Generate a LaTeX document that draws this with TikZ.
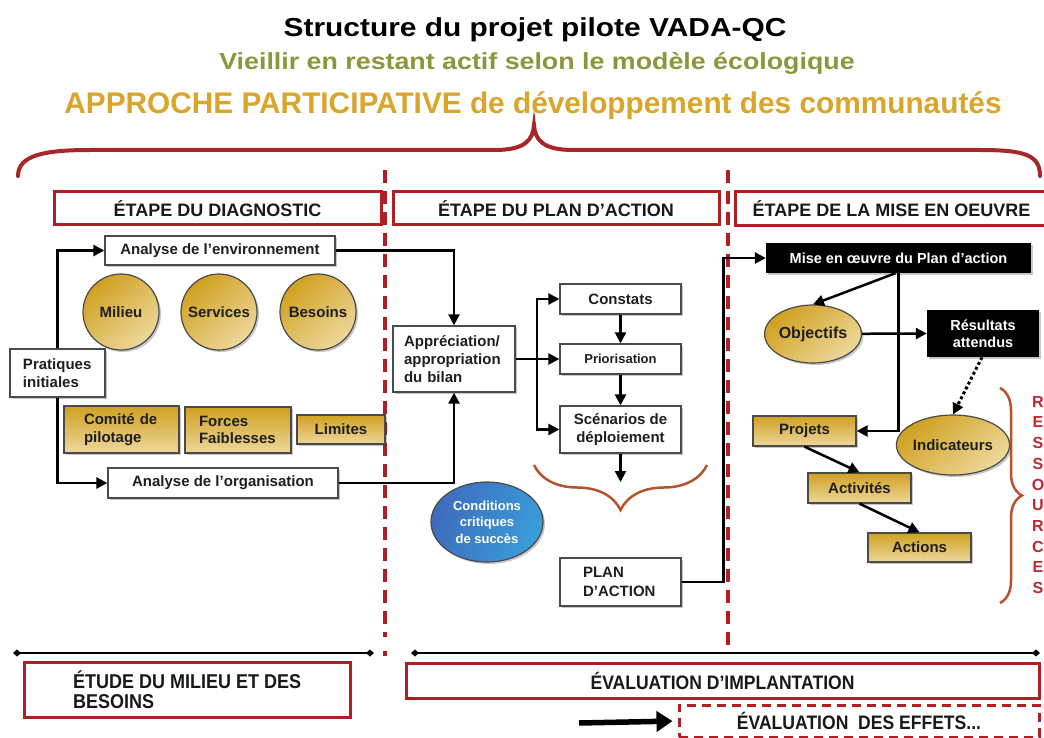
\documentclass[tikz,border=0pt]{standalone}
\usepackage{fontspec}
\setmainfont{Liberation Sans}
\newfontfamily\narrowfont[FakeStretch=0.9]{Liberation Sans}
\newfontfamily\widefont[FakeStretch=1.15]{Liberation Sans}
\usetikzlibrary{arrows.meta,decorations.pathreplacing,shapes.geometric,shadows}
\definecolor{dred}{HTML}{B01E23}
\definecolor{bracered}{HTML}{A8252A}
\definecolor{olive}{HTML}{8C963A}
\definecolor{goldt}{HTML}{D9A52B}
\definecolor{gold1}{HTML}{D0A020}
\definecolor{gold2}{HTML}{EDD89B}
\definecolor{bord}{HTML}{4A4A4A}
\definecolor{orbrace}{HTML}{B5532D}
\definecolor{blue1}{HTML}{3E6CBC}
\definecolor{blue2}{HTML}{3A9DDA}
\definecolor{resred}{HTML}{C0282E}
\tikzset{
  shad/.style={drop shadow={shadow xshift=2pt,shadow yshift=-2pt,fill=black,opacity=0.22}},
  box/.style={draw=bord, line width=1.3, fill=white, inner sep=0pt, align=center,
    text=black!88, font=\bfseries\fontsize{15}{18}\selectfont, shad},
  lbox/.style={box, align=left},
  goldbox/.style={box, top color=gold1, bottom color=gold2},
  goldcirc/.style={circle, draw=bord, line width=1.2, inner sep=0pt, minimum size=76pt,
    top color=gold1, bottom color=gold2, shading angle=40, shad,
    font=\bfseries\fontsize{15}{18}\selectfont, text=black!88},
  goldell/.style={ellipse, draw=bord, line width=1.2, inner sep=0pt,
    top color=gold1, bottom color=gold2, shading angle=40, shad,
    font=\bfseries\fontsize{15}{18}\selectfont, text=black!88},
  redbox/.style={draw=dred, line width=3, fill=white, inner sep=0pt,
    font=\bfseries\fontsize{18}{20}\selectfont, text=black!90},
  blackbox/.style={fill=black, inner sep=0pt, align=center, text=white,
    font=\bfseries\fontsize{14.5}{17}\selectfont, shad},
  conn/.style={line width=2.5, black},
  reddash/.style={draw=dred, line width=3.5, dash pattern=on 13pt off 8pt},
  timeline/.style={line width=2, black, {Diamond[length=8pt,width=7pt]}-{Diamond[length=8pt,width=7pt]}},
  >={Triangle[length=11pt,width=11pt]}
}
\begin{document}
\begin{tikzpicture}[x=1pt,y=-1pt]
\useasboundingbox[fill=white] (0,0) rectangle (1044,738);

% titles
\node[font=\widefont\bfseries\fontsize{26}{30}\selectfont, anchor=base, inner sep=0pt] (title) at (535,37) {Structure du projet pilote VADA-QC};
\node[font=\widefont\bfseries\fontsize{23.3}{28}\selectfont, text=olive, anchor=base, inner sep=0pt] (subtitle) at (537,70) {Vieillir en restant actif selon le modèle écologique};
\node[font=\bfseries\fontsize{29.8}{34}\selectfont, text=goldt, anchor=base, inner sep=0pt] (approche) at (533,114) {APPROCHE PARTICIPATIVE de développement des communautés};

% big brace
\draw[bracered, line width=4, line cap=round] (18,176) .. controls (18,155) and (45,150) .. (90,150) -- (495,150)
  .. controls (525,150) and (533,140) .. (534,125)
  .. controls (535,140) and (543,150) .. (573,150) -- (980,150)
  .. controls (1025,150) and (1040,155) .. (1040,176);

% separators
\coordinate (sepAt) at (385,170);
\coordinate (sepAb) at (385,637);
\coordinate (sepBt) at (728,170);
\coordinate (sepBb) at (728,653);
\draw[reddash] (sepAt) -- (sepAb);
\fill[dred] (383.3,650.5) rectangle (386.7,655.5);
\draw[reddash] (sepBt) -- (sepBb);

% stage headers
\node[redbox, minimum width=327pt, minimum height=33pt] (etape1) at (217.5,208.5) {ÉTAPE DU DIAGNOSTIC};
\node[redbox, minimum width=326pt, minimum height=33pt] (etape2) at (556,208.5) {ÉTAPE DU PLAN D’ACTION};
\node[redbox, minimum width=313pt, minimum height=34pt] (etape3) at (891.5,209) {ÉTAPE DE LA MISE EN OEUVRE};

% diagnostic column
\node[box, minimum width=230pt, minimum height=29pt] (env) at (220,250.5) {Analyse de l’environnement};
\node[goldcirc] (milieu) at (121,312) {Milieu};
\node[goldcirc] (services) at (219,312) {Services};
\node[goldcirc] (besoins) at (318,312) {Besoins};
\node[lbox, text width=69pt, inner xsep=13pt, minimum height=48pt,
  font=\bfseries\fontsize{15}{18}\selectfont] (prat) at (57.5,373) {Pratiques\\initiales};
\node[goldbox, align=left, text width=75pt, inner xsep=20pt, minimum height=47pt,
  font=\bfseries\fontsize{15}{17.5}\selectfont] (comite) at (121.5,429.5) {Comité de\\pilotage};
\node[goldbox, align=left, text width=78pt, inner xsep=14pt, minimum height=46pt,
  font=\bfseries\fontsize{15}{17.5}\selectfont] (forces) at (238,430) {Forces\\Faiblesses};
\node[goldbox, minimum width=88pt, minimum height=29pt] (limites) at (341,429.5) {Limites};
\node[box, minimum width=230pt, minimum height=30pt] (org) at (223,483) {Analyse de l’organisation};

% plan d'action column
\node[lbox, text width=100pt, inner xsep=11pt, minimum height=66pt] (appr) at (454,359) {Appréciation/\\appropriation\\du bilan};
\node[box, minimum width=121pt, minimum height=30pt] (constats) at (620.5,299) {Constats};
\node[box, minimum width=121pt, minimum height=30pt, font=\bfseries\fontsize{13}{16}\selectfont] (prio) at (620.5,359) {Priorisation};
\node[box, minimum width=121pt, minimum height=47pt] (scen) at (620.5,429.5) {Scénarios de\\déploiement};
\node[ellipse, draw=bord, line width=1.2, inner sep=0pt, minimum width=112pt, minimum height=80pt,
  left color=blue1, right color=blue2, shading angle=70, shad, align=center, text=white,
  font=\bfseries\fontsize{13}{16.5}\selectfont] (cond) at (487,522) {Conditions\\critiques\\de succès};
\node[lbox, text width=75pt, inner xsep=23pt, minimum height=48pt,
  font=\bfseries\fontsize{15}{19}\selectfont] (plan) at (620.5,582) {PLAN\\D’ACTION};
\coordinate (scenend) at (620.5,482);

% mise en oeuvre column
\node[blackbox, minimum width=265pt, minimum height=30pt] (mise) at (898.5,258) {Mise en œuvre du Plan d’action};
\node[goldell, minimum width=92pt, minimum height=58pt, font=\bfseries\fontsize{16}{18}\selectfont] (obj) at (813,334) {Objectifs};
\node[blackbox, minimum width=112pt, minimum height=47pt] (res) at (983,333.5) {Résultats\\attendus};
\node[goldell, minimum width=104pt, minimum height=60pt] (ind) at (953,445) {Indicateurs};
\node[goldbox, minimum width=103pt, minimum height=30pt] (projets) at (804.5,431) {Projets};
\node[goldbox, minimum width=103pt, minimum height=30pt] (activ) at (859.5,488) {Activités};
\node[goldbox, minimum width=103pt, minimum height=29pt] (actions) at (919.5,547.5) {Actions};

% braces
\draw[orbrace, line width=2.5, decorate, decoration={brace, amplitude=45pt}] (707,465) -- (534,465);
\draw[orbrace, line width=2.5, decorate, decoration={brace, amplitude=22pt}] (1000,388) -- (1000,603);
\node[font=\bfseries\fontsize{16}{20.7}\selectfont, text=resred, align=center, inner sep=0pt] (ressources) at (1038,495) {R\\E\\S\\S\\O\\U\\R\\C\\E\\S};

% connectors diagnostic
\draw[conn,->] (prat.north) |- (env.west);
\draw[conn,->] (prat.south) |- (org.west);
\draw[conn,->] (env.east) -| (appr.north);
\draw[conn,->] (org.east) -| (appr.south);

% connectors plan
\coordinate (br) at (537,359);
\draw[conn] (appr.east) -- (br);
\draw[conn,->] (br) |- (constats.west);
\draw[conn,->] (br) -- (prio.west);
\draw[conn,->] (br) |- (scen.west);
\draw[conn,->] (constats) -- (prio);
\draw[conn,->] (prio) -- (scen);
\draw[conn,->] (scen) -- (scenend);
\draw[conn,->] (plan.east) -- ++(42,0) |- (mise.west);

% connectors mise en oeuvre
\draw[conn,->] ([xshift=-3pt]mise.south) -- (obj.north);
\draw[conn,->] (mise.south) |- (projets.east);
\draw[conn,->] (obj) -- (res.west);
\draw[line width=3, dash pattern=on 3pt off 2.5pt, ->] ([xshift=-1pt]res.south) -- (ind.north);
\draw[conn,->] (projets.south) -- (activ.north);
\draw[conn,->] (activ.south) -- (actions.north);

% bottom timeline
\coordinate (tl1) at (13,653);
\coordinate (tl2) at (374,653);
\coordinate (tl3) at (411,653);
\coordinate (tl4) at (1040,653);
\draw[timeline] (tl1) -- (tl2);
\draw[timeline] (tl3) -- (tl4);

\node[redbox, minimum width=326pt, minimum height=55pt] (etude) at (187,689.5) {};
\node[anchor=west, align=left, inner sep=0pt, text=black!90,
  font=\narrowfont\bfseries\fontsize{20}{20}\selectfont] (etudetxt) at (73,690) {ÉTUDE DU MILIEU ET DES\\BESOINS};
\node[redbox, minimum width=633pt, minimum height=35pt,
  font=\narrowfont\bfseries\fontsize{19.5}{22}\selectfont] (evalimp) at (722.5,680.5) {ÉVALUATION D’IMPLANTATION};
\node[draw=dred, line width=3, dash pattern=on 9pt off 6pt, inner sep=0pt, minimum width=360pt, minimum height=32pt,
  font=\narrowfont\bfseries\fontsize{19.5}{22}\selectfont, text=black!90] (evaleff) at (859,721) {ÉVALUATION\ \ DES EFFETS...};
\coordinate (bigarr) at (579,723);
\draw[line width=5.5, -{Triangle[length=16pt,width=20pt]}, shorten >=5pt] (bigarr) -- (evaleff.west);
\end{tikzpicture}
\end{document}
